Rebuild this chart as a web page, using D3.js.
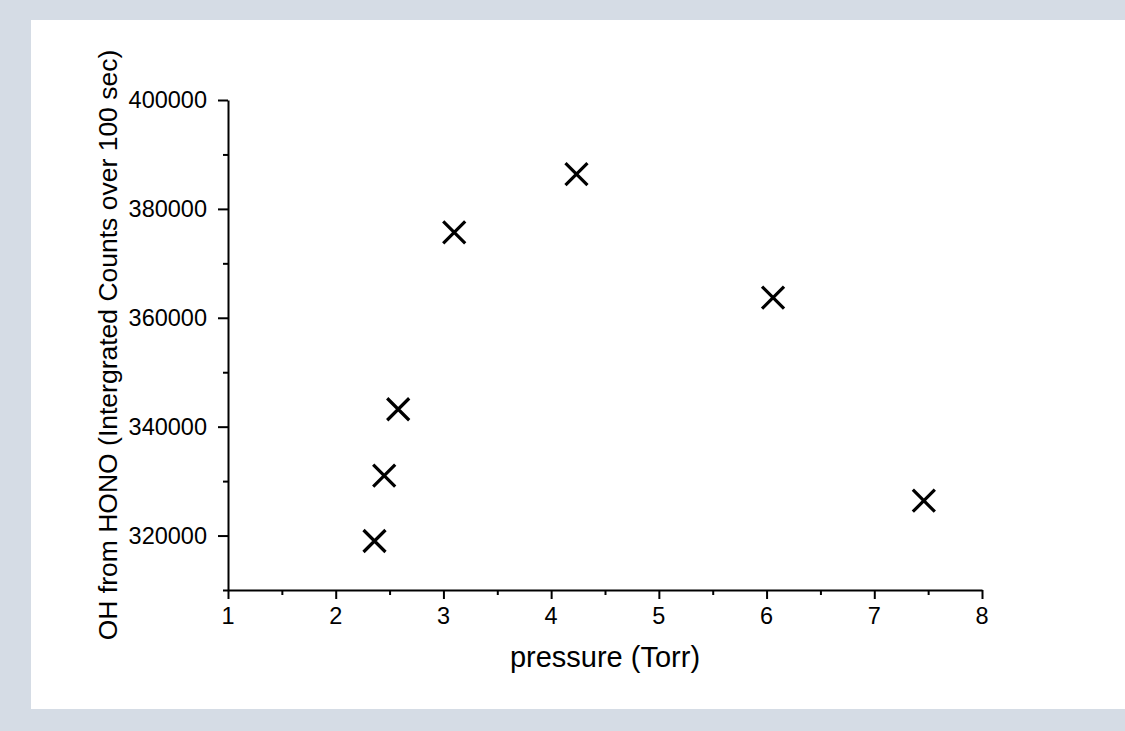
<!DOCTYPE html>
<html>
<head>
<meta charset="utf-8">
<script src="https://cdn.jsdelivr.net/npm/d3@7"></script>
<style>
  html, body { margin: 0; padding: 0; background: #d5dce5; }
  svg { display: block; }
  text { font-family: "Liberation Sans", Arial, sans-serif; fill: #000; }
</style>
</head>
<body>
<div id="chart"></div>
<script>
// values
const pressure = [2.36, 2.45, 2.58, 3.10, 4.235, 6.06, 7.46];
const ohCounts = [319000, 331000, 343200, 375700, 386400, 363700, 326400];

const xMajorTicks = [1, 2, 3, 4, 5, 6, 7, 8];
const xMinorTicks = [1.5, 2.5, 3.5, 4.5, 5.5, 6.5, 7.5];
const yMajorTicks = [320000, 340000, 360000, 380000, 400000];
const yMinorTicks = [310000, 330000, 350000, 370000, 390000];

const xTitle = 'pressure (Torr)';
const yTitle = 'OH from HONO (Intergrated Counts over 100 sec)';

const width = 1125;
const height = 731;
const plot = { left: 228, right: 982, top: 100, bottom: 590 };
const tickFont = 23.5;

const svg = d3
  .select('#chart')
  .append('svg')
  .attr('width', width)
  .attr('height', height);

// white paper area
svg
  .append('rect')
  .attr('x', 31)
  .attr('y', 20)
  .attr('width', width - 31)
  .attr('height', 689)
  .attr('fill', '#fff');

const x = d3.scaleLinear().domain([1, 8]).range([plot.left, plot.right]);
const y = d3.scaleLinear().domain([310000, 400000]).range([plot.bottom, plot.top]);

function styleAxis(g) {
  g.selectAll('path, line').attr('stroke', '#000').attr('stroke-width', 2);
  g.selectAll('text').remove();
}

// x axis lines and ticks
const xAxis = svg
  .append('g')
  .attr('transform', `translate(0,${plot.bottom})`)
  .call(d3.axisBottom(x).tickValues(xMajorTicks).tickSize(9).tickSizeOuter(0).tickFormat(''));
styleAxis(xAxis);

const xMinor = svg
  .append('g')
  .attr('transform', `translate(0,${plot.bottom})`)
  .call(d3.axisBottom(x).tickValues(xMinorTicks).tickSize(5).tickSizeOuter(0).tickFormat(''));
styleAxis(xMinor);
xMinor.select('.domain').remove();

// y axis lines and ticks
const yAxis = svg
  .append('g')
  .attr('transform', `translate(${plot.left},0)`)
  .call(d3.axisLeft(y).tickValues(yMajorTicks).tickSize(10).tickSizeOuter(0).tickFormat(''));
styleAxis(yAxis);

const yMinor = svg
  .append('g')
  .attr('transform', `translate(${plot.left},0)`)
  .call(d3.axisLeft(y).tickValues(yMinorTicks).tickSize(5).tickSizeOuter(0).tickFormat(''));
styleAxis(yMinor);
yMinor.select('.domain').remove();

// tick labels
svg
  .append('g')
  .selectAll('text')
  .data(xMajorTicks)
  .enter()
  .append('text')
  .attr('x', (d) => x(d))
  .attr('y', 624)
  .attr('text-anchor', 'middle')
  .attr('font-size', tickFont)
  .text((d) => d);

svg
  .append('g')
  .selectAll('text')
  .data(yMajorTicks)
  .enter()
  .append('text')
  .attr('x', plot.left - 21)
  .attr('y', (d) => y(d))
  .attr('text-anchor', 'end')
  .attr('dy', '0.35em')
  .attr('font-size', tickFont)
  .text((d) => d3.format('d')(d));

// axis titles
svg
  .append('text')
  .attr('x', (plot.left + plot.right) / 2)
  .attr('y', 667)
  .attr('text-anchor', 'middle')
  .attr('font-size', 29)
  .text(xTitle);

svg
  .append('text')
  .attr('transform', `translate(117,${(plot.top + plot.bottom) / 2}) rotate(-90)`)
  .attr('text-anchor', 'middle')
  .attr('font-size', 26.5)
  .text(yTitle);

// cross markers
const points = pressure.map((p, i) => ({ p: p, c: ohCounts[i] }));
const half = 11;

svg
  .append('g')
  .selectAll('path')
  .data(points)
  .enter()
  .append('path')
  .attr('d', (d) => {
    const cx = x(d.p);
    const cy = y(d.c);
    return `M${cx - half},${cy - half}L${cx + half},${cy + half}M${cx - half},${cy + half}L${cx + half},${cy - half}`;
  })
  .attr('stroke', '#000')
  .attr('stroke-width', 3.2)
  .attr('fill', 'none');
</script>
</body>
</html>
